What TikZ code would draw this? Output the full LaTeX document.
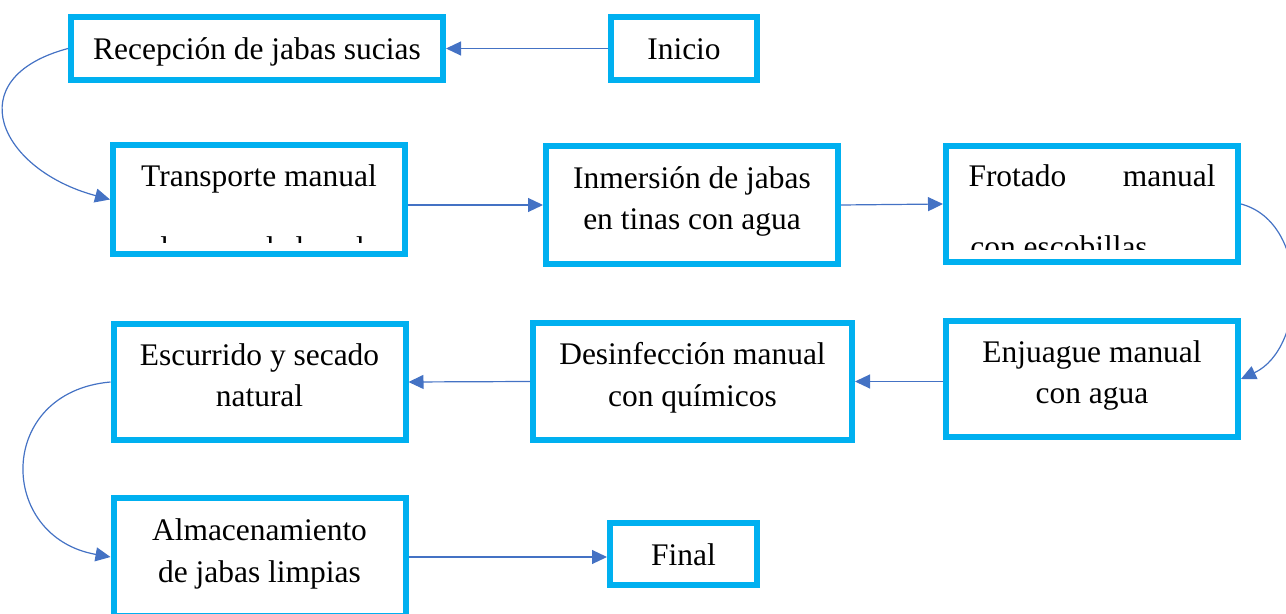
\documentclass[tikz,border=0pt]{standalone}
\usepackage{fontspec}
\setmainfont{Liberation Serif}
\usepackage{xcolor}
\usepackage{tikz}
\usetikzlibrary{arrows.meta}

\definecolor{boxcyan}{HTML}{00B0F0}
\definecolor{flowblue}{HTML}{4472C4}

\begin{document}
\begin{tikzpicture}

\tikzstyle{stepbox}=[draw=boxcyan,line width=0.12cm,fill=white,inner sep=0pt,
    font=\fontsize{17.9}{23.8}\selectfont,align=center,
    text height=1.34cm,text depth=0.34cm,minimum width=5.84cm,minimum height=2.32cm]
\tikzstyle{onestep}=[stepbox,text height=0.5cm,text depth=0.04cm,minimum height=1.26cm]
\tikzstyle{cutline}=[inner sep=0pt,font=\fontsize{17.9}{23.8}\selectfont]
\tikzstyle{flow}=[draw=flowblue,line width=0.024cm,-{Triangle[length=0.3cm,width=0.28cm]}]

\useasboundingbox (0,0) rectangle (25.72,-12.28);
\clip (0,0) rectangle (25.72,-12.28);

%% First row
\node [onestep,minimum width=7.44cm] (recep) at (5.14,-0.97) {Recepción de jabas sucias};
\node [onestep,minimum width=2.92cm] (inicio) at (13.68,-0.97) {Inicio};

%% Second row
\node [stepbox,text height=0.5cm,text depth=1.0cm,minimum height=2.18cm] (trans) at (5.18,-3.99) {Transporte manual};
\node [stepbox,minimum height=2.36cm] (inmer) at (13.84,-4.10) {Inmersión de jabas\\en tinas con agua};
\node [stepbox,text height=0.5cm,text depth=1.18cm,text width=4.94cm] (frot) at (21.84,-4.08) {Frotado\hfill manual};

% second lines hidden by the box edge
\begin{scope}
    \clip (2.2,-2.8) rectangle (8.2,-4.86);
    \node [cutline,anchor=base] (trans2) at (5.18,-5.18) {a la zona de lavado};
\end{scope}
\begin{scope}
    \clip (19,-2.8) rectangle (24.8,-5.0);
    \node [cutline,anchor=base west] (frot2) at (19.40,-5.15) {con escobillas};
\end{scope}

%% Third row
\node [stepbox] (enju) at (21.84,-7.58) {Enjuague manual\\con agua};
\node [stepbox,minimum width=6.38cm,minimum height=2.34cm] (desin) at (13.85,-7.63) {Desinfección manual\\con químicos};
\node [stepbox] (escu) at (5.19,-7.64) {Escurrido y secado\\natural};

%% Last row
\node [stepbox,minimum height=2.36cm] (alma) at (5.19,-11.14) {Almacenamiento\\de jabas limpias};
\node [onestep,minimum width=2.94cm,minimum height=1.24cm] (fin) at (13.67,-11.08) {Final};

%% Flow
\draw [flow] (inicio.west) -- (recep.east);
\draw [flow] (recep.west) to[out=195,in=165,looseness=1.87] (trans.west);
\draw [flow] (trans.east |- inmer.west) -- (inmer.west);
\draw [flow] (inmer.east) -- (frot.west);
\draw [flow] (frot.east) to[out=-15,in=25,looseness=1.06] (enju.east);
\draw [flow] (enju.west |- desin.east) -- (desin.east);
\draw [flow] (desin.west) -- (escu.east);
\draw [flow] (escu.west) to[out=185,in=170,looseness=1.69] (alma.west);
\draw [flow] (alma.east) -- (alma.east -| fin.west);

\end{tikzpicture}
\end{document}
